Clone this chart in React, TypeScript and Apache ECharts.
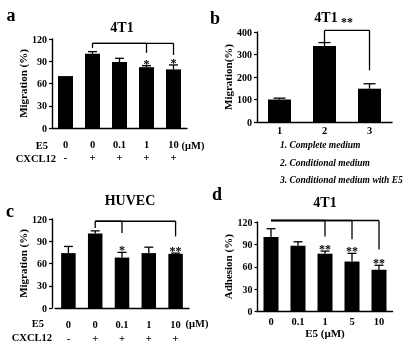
import React, { useEffect, useRef } from "react";
import * as echarts from "echarts";

const FONT = "'Liberation Serif', 'Times New Roman', serif";

// Panel a: 4T1 migration
const aE5 = ["0", "0", "0.1", "1", "10"];
const aCXCL12 = ["-", "+", "+", "+", "+"];
const aValues = [70, 100, 89, 82, 79];
const aErrors = [0, 3, 5, 2, 6];
const aStars = ["", "", "", "*", "*"];
const aBracketTop = 114;
const aBracketStart = 1;
const aBracketDrops = [[1, 108], [3, 101.5], [4, 98.5]];

// Panel b: 4T1 migration (media)
const bCategories = ["1", "2", "3"];
const bValues = [100, 338, 148];
const bErrors = [6, 15, 22];
const bStars = ["", "", ""];
const bBracketTop = 407;
const bBracketStart = 1;
const bBracketDrops = [[1, 355], [2, 230]];
const bBracketLabel = "**";
const bLegend = ["1. Complete medium", "2. Conditional medium", "3. Conditional medium with E5"];

// Panel c: HUVEC migration
const cE5 = ["0", "0", "0.1", "1", "10"];
const cCXCL12 = ["-", "+", "+", "+", "+"];
const cValues = [74, 100.5, 68, 74, 73];
const cErrors = [9, 3.5, 7, 8, 1];
const cStars = ["", "", "*", "", "**"];
const cBracketTop = 117;
const cBracketStart = 1;
const cBracketDrops = [[1, 108], [2, 101], [4, 96.5]];

// Panel d: 4T1 adhesion
const dCategories = ["0", "0.1", "1", "5", "10"];
const dValues = [100, 88, 77.5, 67, 56];
const dErrors = [11, 5.5, 3.5, 11, 6];
const dStars = ["", "", "**", "**", "**"];
const dBracketTop = 122;
const dBracketStart = 0;
const dBracketDrops = [[0, 122], [2, 100.5], [3, 97], [4, 83]];

const yTicks120 = { min: 0, max: 120, interval: 30 };
const yTicks400 = { min: 0, max: 400, interval: 100 };

const black = "#000";

const starStyle = {
  fontSize: 12,
  fontWeight: "bold",
  fontFamily: FONT,
  fill: black,
};

function errorRender(stars: string[], capHalf: number) {
  return (params: any, api: any) => {
    const i = params.dataIndex;
    const x = api.value(0);
    const v = api.value(1);
    const e = api.value(2);
    const base = api.coord([x, v]);
    const top = api.coord([x, v + e]);
    const children: any[] = [];
    if (e > 0) {
      children.push({
        type: "line",
        shape: { x1: base[0], y1: base[1], x2: top[0], y2: top[1] },
        style: { stroke: black, lineWidth: 1.3 },
      });
      children.push({
        type: "line",
        shape: { x1: top[0] - capHalf, y1: top[1], x2: top[0] + capHalf, y2: top[1] },
        style: { stroke: black, lineWidth: 1.3 },
      });
    }
    if (stars[i]) {
      children.push({
        type: "text",
        x: top[0],
        y: top[1] - 2,
        style: { text: stars[i], align: "center", verticalAlign: "middle", ...starStyle },
      });
    }
    return { type: "group", children };
  };
}

function bracketRender(top: number, start: number, count: number, label: string) {
  return (params: any, api: any) => {
    const i = params.dataIndex;
    const cat = api.value(0);
    const bottom = api.value(1);
    const pTop = api.coord([cat, top]);
    const pBot = api.coord([cat, bottom]);
    const pStart = api.coord([start, top]);
    const children: any[] = [
      {
        type: "line",
        shape: { x1: pTop[0], y1: pTop[1], x2: pBot[0], y2: pBot[1] },
        style: { stroke: black, lineWidth: 1.3 },
      },
      {
        type: "line",
        shape: { x1: pStart[0], y1: pStart[1], x2: pTop[0], y2: pTop[1] },
        style: { stroke: black, lineWidth: 1.3 },
      },
    ];
    if (label && i === count - 1) {
      children.push({
        type: "text",
        x: (pStart[0] + pTop[0]) / 2,
        y: pTop[1] - 2,
        style: { text: label, align: "center", verticalAlign: "bottom", ...starStyle },
      });
    }
    return { type: "group", children };
  };
}

type Panel = {
  grid: any;
  cats: string[];
  labelFormatter?: (v: string, i: number) => string;
  labelMargin: number;
  labelLineHeight?: number;
  xName?: string;
  y: { min: number; max: number; interval: number };
  yName: string;
  yNameGap: number;
  yOffset?: number;
  values: number[];
  errors: number[];
  stars: string[];
  barWidth: number;
  capHalf: number;
  bracketTop: number;
  bracketStart: number;
  bracketDrops: number[][];
  bracketLabel: string;
};

const panels: Panel[] = [
  {
    grid: { left: 52, top: 39, width: 135, height: 89 },
    cats: aE5.map((_, i) => String(i)),
    labelFormatter: (_v, i) => aE5[i] + "\n" + aCXCL12[i],
    labelMargin: 10,
    labelLineHeight: 13,
    y: yTicks120,
    yName: "Migration (%)",
    yNameGap: 17,
    values: aValues,
    errors: aErrors,
    stars: aStars,
    barWidth: 15,
    capHalf: 4.5,
    bracketTop: aBracketTop,
    bracketStart: aBracketStart,
    bracketDrops: aBracketDrops,
    bracketLabel: "",
  },
  {
    grid: { left: 257, top: 32, width: 135, height: 90 },
    cats: bCategories,
    labelMargin: 3,
    y: yTicks400,
    yName: "Migration(%)",
    yNameGap: 21,
    values: bValues,
    errors: bErrors,
    stars: bStars,
    barWidth: 23,
    capHalf: 6,
    bracketTop: bBracketTop,
    bracketStart: bBracketStart,
    bracketDrops: bBracketDrops,
    bracketLabel: bBracketLabel,
  },
  {
    grid: { left: 55, top: 219, width: 134, height: 89 },
    cats: cE5.map((_, i) => String(i)),
    labelFormatter: (_v, i) => cE5[i] + "\n" + cCXCL12[i],
    labelMargin: 9,
    labelLineHeight: 14,
    y: yTicks120,
    yName: "Migration (%)",
    yNameGap: 16,
    yOffset: 3,
    values: cValues,
    errors: cErrors,
    stars: cStars,
    barWidth: 14.5,
    capHalf: 4.5,
    bracketTop: cBracketTop,
    bracketStart: cBracketStart,
    bracketDrops: cBracketDrops,
    bracketLabel: "",
  },
  {
    grid: { left: 257.5, top: 222, width: 135, height: 89.5 },
    cats: dCategories,
    labelMargin: 4,
    xName: "E5 (μM)",
    y: yTicks120,
    yName: "Adhesion (%)",
    yNameGap: 20,
    values: dValues,
    errors: dErrors,
    stars: dStars,
    barWidth: 15,
    capHalf: 4.5,
    bracketTop: dBracketTop,
    bracketStart: dBracketStart,
    bracketDrops: dBracketDrops,
    bracketLabel: "",
  },
];

const boldText = { fontFamily: FONT, fontWeight: "bold" as const, color: black };

function buildOption() {
  const grid: any[] = [];
  const xAxis: any[] = [];
  const yAxis: any[] = [];
  const series: any[] = [];
  panels.forEach((p, k) => {
    grid.push({ ...p.grid, containLabel: false });
    xAxis.push({
      type: "category",
      gridIndex: k,
      data: p.cats,
      axisLine: { lineStyle: { color: black, width: 1.4 } },
      axisTick: { alignWithLabel: true, length: 3, lineStyle: { color: black, width: 1.2 } },
      axisLabel: {
        ...boldText,
        fontSize: 10.5,
        margin: p.labelMargin,
        lineHeight: p.labelLineHeight,
        formatter: p.labelFormatter,
        interval: 0,
      },
      name: p.xName,
      nameLocation: "middle",
      nameGap: 16,
      nameTextStyle: { ...boldText, fontSize: 11 },
      splitLine: { show: false },
    });
    yAxis.push({
      type: "value",
      gridIndex: k,
      min: p.y.min,
      max: p.y.max,
      interval: p.y.interval,
      offset: p.yOffset || 0,
      axisLine: { show: true, lineStyle: { color: black, width: 1.4 } },
      axisTick: { show: true, length: 3, lineStyle: { color: black, width: 1.2 } },
      axisLabel: { ...boldText, fontSize: 10, margin: 5 },
      splitLine: { show: false },
      name: p.yName,
      nameLocation: "middle",
      nameGap: p.yNameGap,
      nameRotate: 90,
      nameTextStyle: { ...boldText, fontSize: 11 },
    });
    series.push({
      type: "bar",
      xAxisIndex: k,
      yAxisIndex: k,
      data: p.values,
      barWidth: p.barWidth,
      itemStyle: { color: black },
    });
    series.push({
      type: "custom",
      xAxisIndex: k,
      yAxisIndex: k,
      clip: false,
      itemStyle: { color: black },
      renderItem: errorRender(p.stars, p.capHalf),
      data: p.values.map((v, i) => [i, v, p.errors[i]]),
      encode: { x: 0, y: 1 },
      z: 3,
    });
    series.push({
      type: "custom",
      xAxisIndex: k,
      yAxisIndex: k,
      clip: false,
      itemStyle: { color: black },
      renderItem: bracketRender(p.bracketTop, p.bracketStart, p.bracketDrops.length, p.bracketLabel),
      data: p.bracketDrops,
      encode: { x: 0, y: 1 },
      z: 3,
    });
  });

  const t = (text: string, x: number, y: number, size: number, align = "center", extra: any = {}) => ({
    type: "text",
    x,
    y,
    style: {
      text,
      align,
      verticalAlign: "middle",
      fontSize: size,
      fontWeight: "bold",
      fontFamily: FONT,
      fill: black,
      ...extra,
    },
  });

  const graphic: any[] = [
    t("a", 11, 15, 18),
    t("b", 215, 18, 18),
    t("c", 10, 211, 18),
    t("d", 217, 194, 18),
    t("4T1", 122, 27, 14),
    t("4T1", 326, 17, 14),
    t("HUVEC", 130, 200, 14),
    t("4T1", 325, 202, 14),
    t("E5", 48, 145, 10.5, "right"),
    t("CXCL12", 56, 158, 10.5, "right"),
    t("(μM)", 193, 145, 10.5),
    t("E5", 44, 323, 10.5, "right"),
    t("CXCL12", 52, 337, 10.5, "right"),
    t("(μM)", 197, 323, 10.5),
    ...bLegend.map((s, i) => t(s, 280, 145 + i * 17.5, 9.5, "left", { fontStyle: "italic" })),
  ];

  return {
    animation: false,
    backgroundColor: "#fff",
    color: [black],
    grid,
    xAxis,
    yAxis,
    series,
    graphic,
  };
}

export default function App() {
  const ref = useRef<HTMLDivElement>(null);
  useEffect(() => {
    const chart = echarts.init(ref.current!, null, { renderer: "svg" });
    chart.setOption(buildOption() as any);
    return () => chart.dispose();
  }, []);
  return (
    <div
      ref={ref}
      style={{
        position: "absolute",
        left: 0,
        top: 0,
        width: 415,
        height: 347,
        background: "#fff",
        filter: "grayscale(1)",
      }}
    />
  );
}
